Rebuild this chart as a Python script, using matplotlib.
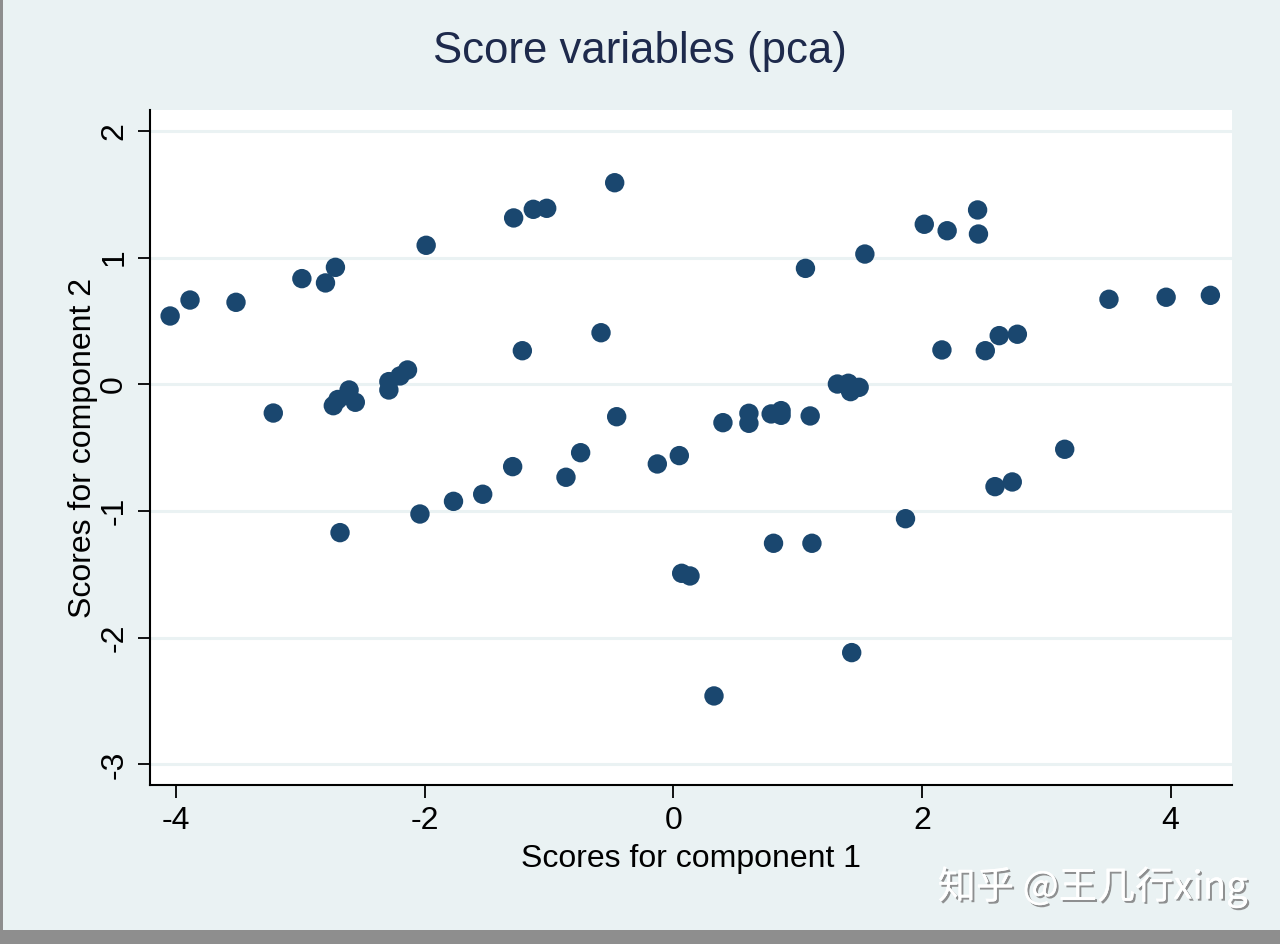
import matplotlib
matplotlib.use("Agg")
import matplotlib.pyplot as plt
import matplotlib.patheffects as pe
from matplotlib.patches import Rectangle

# Data: scores for component 1 (x) and component 2 (y)
score1 = [-4.05, -3.89, -3.52, -2.99, -2.80, -2.72, -1.99, -1.286, -1.128, -1.02,
          -0.473, -3.22, -2.737, -2.70, -2.61, -2.56, -2.29, -2.29, -2.20, -2.14,
          -1.216, -0.583, -0.457, -0.13, -0.747, -0.865, -1.294, -1.535, -1.77, -2.04,
          -2.683, 0.047, 0.398, 0.607, 0.607, 0.786, 0.866, 0.866, 1.10, 1.319,
          1.407, 1.425, 1.494, 1.062, 1.54, 2.018, 2.202, 2.447, 2.454, 2.16,
          2.509, 2.621, 2.767, 3.504, 3.964, 4.32, 3.148, 2.587, 2.726, 1.867,
          0.805, 1.114, 0.066, 0.133, 0.326, 1.434]
score2 = [0.539, 0.665, 0.647, 0.834, 0.800, 0.923, 1.097, 1.313, 1.381, 1.389,
          1.591, -0.227, -0.169, -0.12, -0.045, -0.142, -0.045, 0.021, 0.066, 0.113,
          0.265, 0.407, -0.256, -0.629, -0.54, -0.734, -0.65, -0.868, -0.924, -1.024,
          -1.171, -0.563, -0.303, -0.229, -0.308, -0.234, -0.208, -0.245, -0.25, 0.002,
          0.008, -0.058, -0.024, 0.915, 1.028, 1.263, 1.212, 1.376, 1.186, 0.271,
          0.265, 0.384, 0.395, 0.671, 0.687, 0.702, -0.513, -0.808, -0.771, -1.061,
          -1.255, -1.255, -1.492, -1.513, -2.46, -2.118]
xticks = [-4, -2, 0, 2, 4]
yticks = [-3, -2, -1, 0, 1, 2]
title = "Score variables (pca)"
xlabel = "Scores for component 1"
ylabel = "Scores for component 2"

BG = "#EAF2F3"
NAVY = "#1A476F"
FONT = ["Liberation Sans", "DejaVu Sans"]

plt.rcParams["font.family"] = FONT

fig = plt.figure(figsize=(12.8, 9.44), dpi=100)
fig.patch.set_facecolor(BG)

ax = fig.add_axes([150 / 1280, 159 / 944, 1082 / 1280, 675 / 944])
ax.set_facecolor("white")
ax.scatter(score1, score2, s=195, color=NAVY, edgecolors="none", zorder=3)

ax.set_xlim(-4.212, 4.494)
ax.set_ylim(-3.163, 2.165)
ax.set_xticks(xticks)
ax.set_yticks(yticks)
ax.set_xticklabels([str(v) for v in xticks], fontsize=23)
ax.set_yticklabels([str(v) for v in yticks], fontsize=23, rotation=90, va="center")

ax.yaxis.grid(True, color=BG, linewidth=2.2, zorder=0)
ax.xaxis.grid(False)
ax.set_axisbelow(True)

for s in ["top", "right"]:
    ax.spines[s].set_visible(False)
for s in ["left", "bottom"]:
    ax.spines[s].set_color("black")
    ax.spines[s].set_linewidth(1.5)
ax.tick_params(axis="both", length=9, width=1.3, color="black", labelcolor="black", pad=6)

ax.set_xlabel(xlabel, fontsize=23, labelpad=6)
ax.set_ylabel(ylabel, fontsize=23, labelpad=1)

fig.text(0.5, 1 - 52 / 944, title, ha="center", va="center", fontsize=31.5, color="#1E2A4C")

# watermark
fig.text(1248 / 1280, 1 - 887 / 944, "知乎 @王几行xing", ha="right", va="center",
         fontsize=27.5, color="white", family=["Noto Sans CJK SC", "DejaVu Sans"],
         path_effects=[pe.withSimplePatchShadow(offset=(1.5, -1.5), shadow_rgbFace="#777777", alpha=0.8),
                       pe.Normal()])

# screenshot border
fig.patches.append(Rectangle((0, 0), 1, 14 / 944, transform=fig.transFigure,
                             facecolor="#8E8E8E", edgecolor="none", zorder=10))
fig.patches.append(Rectangle((0, 0), 2.5 / 1280, 1, transform=fig.transFigure,
                             facecolor="#8E8E8E", edgecolor="none", zorder=10))

fig.savefig("out.png", dpi=100, facecolor=fig.get_facecolor())
